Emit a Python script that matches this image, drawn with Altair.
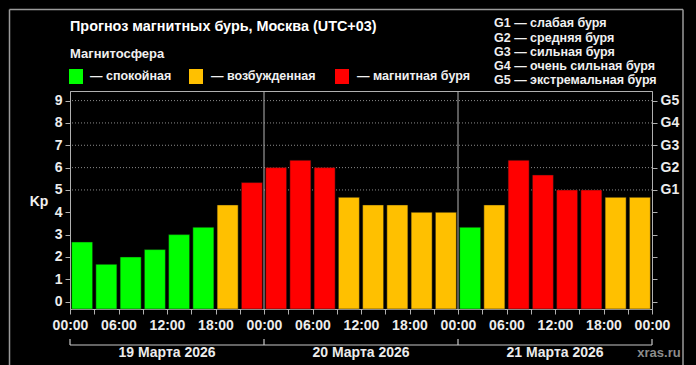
import altair as alt
import pandas as pd

# ---------------- data ----------------
start_hours = [0, 3, 6, 9, 12, 15, 18, 21,
               24, 27, 30, 33, 36, 39, 42, 45,
               48, 51, 54, 57, 60, 63, 66, 69]
kp = [2.67, 1.67, 2.0, 2.33, 3.0, 3.33, 4.33, 5.33,
      6.0, 6.33, 6.0, 4.67, 4.33, 4.33, 4.0, 4.0,
      3.33, 4.33, 6.33, 5.67, 5.0, 5.0, 4.67, 4.67]
days = ["19 Марта 2026", "20 Марта 2026", "21 Марта 2026"]
day_bounds = [0, 24, 48, 72]
status_names = ["спокойная", "возбужденная", "магнитная буря"]
status_colors = ["#00ff00", "#ffc000", "#ff0000"]
g_levels = ["G1 — слабая буря", "G2 — средняя буря", "G3 — сильная буря",
            "G4 — очень сильная буря", "G5 — экстремальная буря"]
grid_levels = [5, 6, 7, 8, 9]
title_text = "Прогноз магнитных бурь, Москва (UTC+03)"
legend_title = "Магнитосфера"
watermark = "xras.ru"


def status(v):
    if v < 4:
        return status_names[0]
    if v < 5:
        return status_names[1]
    return status_names[2]


bars = pd.DataFrame({
    "h0": [h + 0.2 for h in start_hours],
    "h1": [h + 2.8 for h in start_hours],
    "kp": kp,
    "status": [status(v) for v in kp],
})
day_df = pd.DataFrame({"day": days, "mid": [b + 12 for b in day_bounds[:3]]})
bound_df = pd.DataFrame({"h": day_bounds})
inner_bounds = pd.DataFrame({"h": day_bounds[1:3]})
grid_df = pd.DataFrame({"lvl": grid_levels})

FONT = "Liberation Sans"
W, H = 582, 218
YDOM = [-0.33, 9.43]

xscale = alt.Scale(domain=[0, 72], nice=False, zero=False)
yscale = alt.Scale(domain=YDOM, nice=False, zero=False)

x_label_expr = ("datum.value % 6 == 0 ? ((datum.value % 24) < 10 ? '0' : '') + "
                "(datum.value % 24) + ':00' : ''")
XAXIS = alt.Axis(values=list(range(0, 73, 3)), labelExpr=x_label_expr,
                 title=None, labelFontSize=14, labelPadding=4,
                 labelFlush=False, labelOverlap=False)

# gridlines (and right axis)
grid = alt.Chart(grid_df).mark_rule(color="#8a8a8a", strokeDash=[1, 2], strokeWidth=1).encode(
    y=alt.Y("lvl:Q", scale=yscale,
            axis=alt.Axis(orient="right", values=list(range(10)), title=None,
                          labelExpr="datum.value >= 5 ? 'G' + (datum.value - 4) : ''",
                          labelFontSize=14, labelPadding=3)),
)

# bars (with left and bottom axes)
bar = alt.Chart(bars).mark_bar(stroke="#111111", strokeWidth=0.5).encode(
    x=alt.X("h0:Q", scale=xscale, axis=XAXIS),
    x2="h1:Q",
    y=alt.Y("kp:Q", scale=yscale,
            axis=alt.Axis(orient="left", values=list(range(10)), title=None,
                          labelFontSize=14, labelPadding=3)),
    y2=alt.value(H),
    color=alt.Color("status:N", scale=alt.Scale(domain=status_names, range=status_colors),
                    legend=None),
)

# day separators
seps = alt.Chart(inner_bounds).mark_rule(color="#b5b5b5", strokeWidth=1).encode(
    x=alt.X("h:Q", scale=xscale, axis=XAXIS),
)

# day brackets below the axis
brk_v = alt.Chart(bound_df).mark_rule(color="#c8c8c8", strokeWidth=1.2).encode(
    x=alt.X("h:Q", scale=xscale, axis=XAXIS),
    y=alt.value(248), y2=alt.value(254),
)
brk_h = alt.Chart(pd.DataFrame({"a": [0], "b": [72]})).mark_rule(
    color="#c8c8c8", strokeWidth=1.2).encode(
    x=alt.X("a:Q", scale=xscale, axis=XAXIS), x2="b:Q", y=alt.value(254),
)
day_txt = alt.Chart(day_df).mark_text(font=FONT, fontWeight="bold", fontSize=14,
                                      color="#ececec", baseline="middle").encode(
    x=alt.X("mid:Q", scale=xscale, axis=XAXIS),
    y=alt.value(262),
    text="day:N",
)


def txt(text, x, y, size, color="#f0f0f0", align="left"):
    return alt.Chart(pd.DataFrame({"t": [text]})).mark_text(
        font=FONT, fontWeight="bold", fontSize=size, color=color,
        align=align, baseline="middle").encode(
        x=alt.value(x), y=alt.value(y), text="t:N")


def square(color, x):
    return alt.Chart(pd.DataFrame({"c": [color]})).mark_rect(color=color).encode(
        x=alt.value(x), x2=alt.value(x + 14), y=alt.value(-22), y2=alt.value(-7))


def line(x, x2, y, y2):
    return alt.Chart(pd.DataFrame({"a": [0]})).mark_rule(color="#9a9a9a", strokeWidth=1.5).encode(
        x=alt.value(x), x2=alt.value(x2), y=alt.value(y), y2=alt.value(y2))


annotations = [
    txt(title_text, 0, -64, 14.4, color="#ffffff"),
    txt(legend_title, 0, -37, 13),
    square(status_colors[0], -1),
    square(status_colors[1], 119),
    square(status_colors[2], 265),
    txt("— " + status_names[0], 20, -15, 12.5),
    txt("— " + status_names[1], 141, -15, 12.5),
    txt("— " + status_names[2], 287, -15, 12.5),
    txt("Kp", -31, 111, 14, align="center"),
    txt(watermark, 589, 262, 13, color="#8c8c8c", align="center"),
    line(-60.5, -60.5, -81.5, 280),
    line(-60.5, 613, -81.5, -81.5),
    line(613, 613, -81.5, 280),
]
for i, g in enumerate(g_levels):
    annotations.append(txt(g, 424, -67.7 + 14.2 * i, 12.5))

chart = alt.layer(grid, seps, bar, brk_v, brk_h, day_txt, *annotations).resolve_axis(
    y="independent"
).properties(
    width=W, height=H,
    background="#000000",
    autosize=alt.AutoSizeParams(type="none"),
    padding={"left": 70, "top": 91, "right": 44, "bottom": 56},
).configure_view(
    stroke="#b0b0b0", strokeWidth=1,
).configure_axis(
    domainColor="#b0b0b0", tickColor="#b0b0b0", tickSize=5, grid=False,
    labelColor="#ececec", labelFont=FONT, labelFontWeight="bold",
)

chart.save("out.html", embed_options={"renderer": "svg", "actions": False})
